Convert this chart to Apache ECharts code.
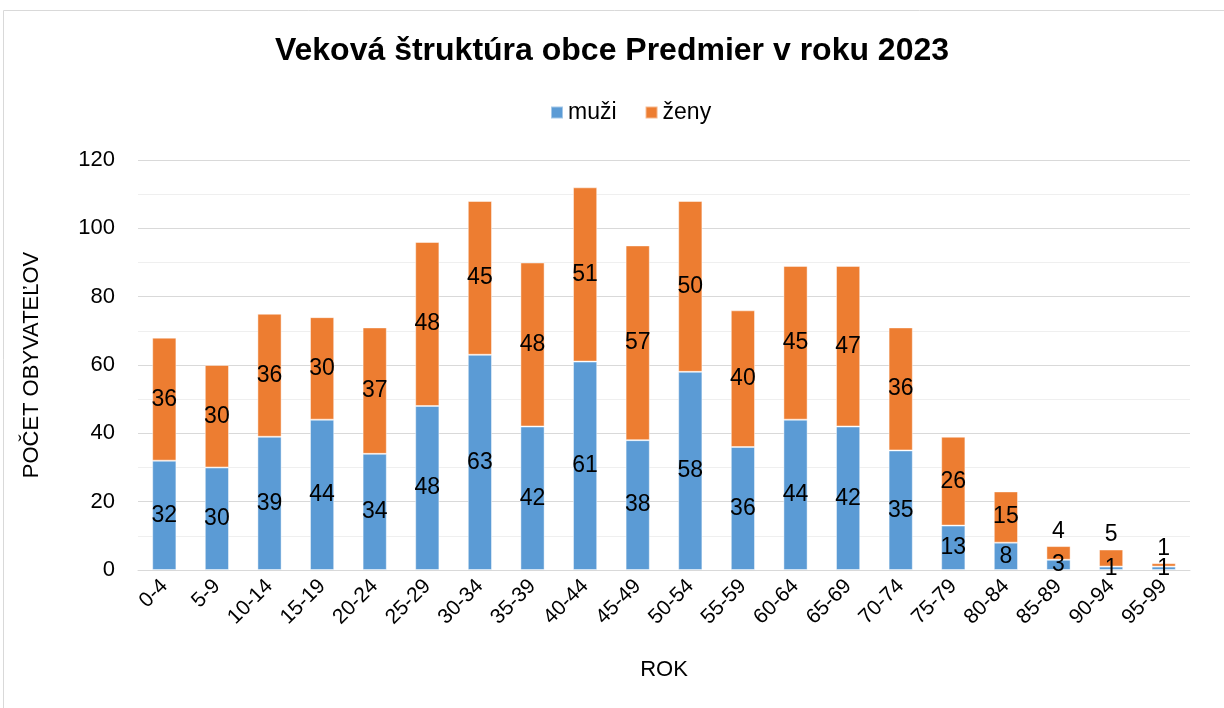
<!DOCTYPE html>
<html><head><meta charset="utf-8">
<script src="https://cdn.jsdelivr.net/npm/echarts@6/dist/echarts.min.js"></script>
<style>html,body{margin:0;padding:0;background:#fff}#c{width:1224px;height:708px}</style>
</head><body><div id="c"></div>
<script>
const categories = ['0-4','5-9','10-14','15-19','20-24','25-29','30-34','35-39','40-44','45-49','50-54','55-59','60-64','65-69','70-74','75-79','80-84','85-89','90-94','95-99'];
const muzi = [32,30,39,44,34,48,63,42,61,38,58,36,44,42,35,13,8,3,1,1];
const zeny = [36,30,36,30,37,48,45,48,51,57,50,40,45,47,36,26,15,4,5,1];
const yTicks = {min:0, max:120, interval:20};
const FONT = 'Liberation Sans, Arial, sans-serif';
const chart = echarts.init(document.getElementById('c'));
const lbl = {show:true, position:'inside', color:'#000', fontSize:23, fontFamily:FONT};
// small top segments: Excel pushes the label above the bar
const zenyData = zeny.map((v) => v < 10 ? {value:v, label:{position:'top', distance:3}} : v);
chart.setOption({
  animation:false,
  textStyle:{fontFamily:FONT},
  title:{text:'Veková štruktúra obce Predmier v roku 2023', left:'center', top:30, textStyle:{fontSize:32, fontWeight:'bold', color:'#000', fontFamily:FONT}},
  legend:{top:96, left:545, itemWidth:12, itemHeight:12, itemGap:28, itemTextGap:4, icon:'rect', textStyle:{fontSize:23, color:'#000', fontFamily:FONT}, data:['muži','ženy']},
  grid:{left:138, right:34, top:160, bottom:138},
  graphic:[{type:'rect', shape:{x:3.5, y:10.5, width:1300, height:800}, style:{fill:'none', stroke:'#d9d9d9', lineWidth:1}, silent:true}],
  xAxis:{type:'category', data:categories, name:'ROK', nameLocation:'middle', nameGap:89,
    nameTextStyle:{fontSize:22, color:'#000'},
    axisLine:{lineStyle:{color:'#d9d9d9', width:1}}, axisTick:{show:false},
    axisLabel:{rotate:45, fontSize:21, color:'#000', margin:13, interval:0}},
  yAxis:{type:'value', min:yTicks.min, max:yTicks.max, interval:yTicks.interval,
    name:'POČET OBYVATEĽOV', nameLocation:'middle', nameGap:95, nameTextStyle:{fontSize:22, color:'#000'},
    axisLine:{show:false}, axisTick:{show:false},
    axisLabel:{fontSize:22, color:'#000', margin:23},
    splitLine:{lineStyle:{color:'#d9d9d9', width:1}},
    minorTick:{show:false, splitNumber:2},
    minorSplitLine:{show:true, lineStyle:{color:'#efefef', width:1}}},
  series:[
    {name:'muži', type:'bar', stack:'a', data:muzi, barWidth:'46%', itemStyle:{color:'#5B9BD5', borderColor:'rgba(255,255,255,0.45)', borderWidth:1}, label:lbl},
    {name:'ženy', type:'bar', stack:'a', data:zenyData, barWidth:'46%', itemStyle:{color:'#ED7D31', borderColor:'rgba(255,255,255,0.45)', borderWidth:1}, label:lbl}
  ]
});
</script></body></html>
